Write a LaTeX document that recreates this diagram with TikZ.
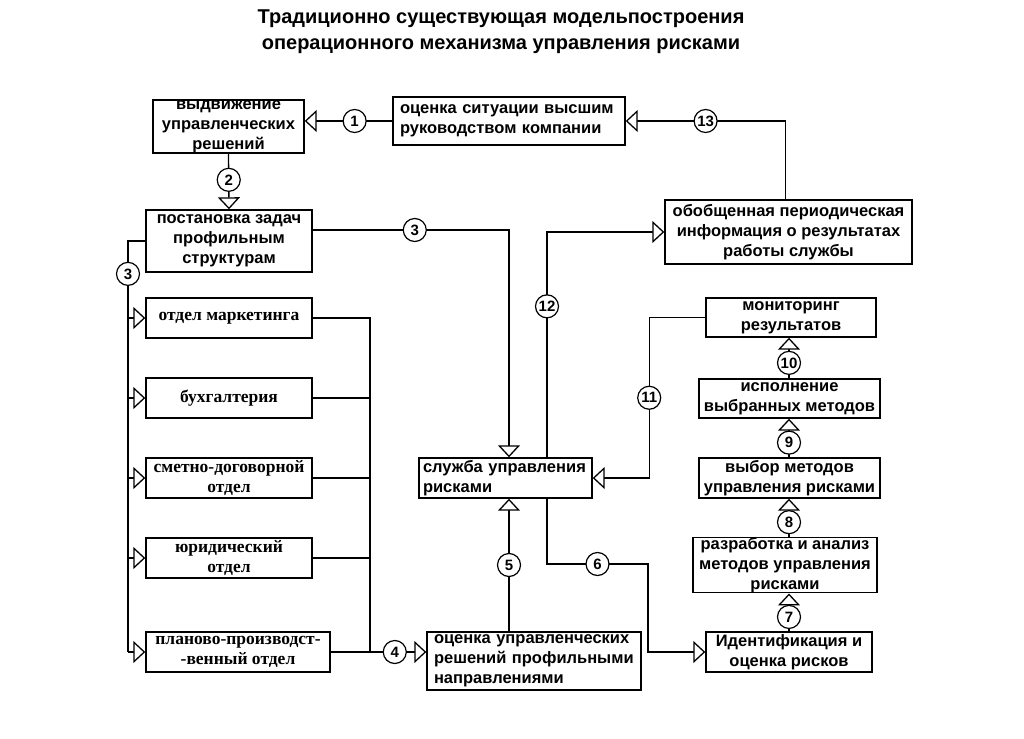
\documentclass[tikz,border=0pt]{standalone}
\usepackage{fontspec}
\setmainfont{Liberation Serif}
\setsansfont{Liberation Sans}
\usetikzlibrary{arrows.meta}

\tikzset{
  box/.style={draw, line width=1.4pt, inner sep=0pt, align=center,
    font=\sffamily\bfseries\fontsize{16.5}{20}\selectfont},
  dept/.style={box, minimum width=166pt, minimum height=40pt,
    font=\rmfamily\bfseries\fontsize{17.5}{20}\selectfont},
  num/.style={circle, draw, fill=white, line width=1.2pt, minimum size=23pt,
    inner sep=0pt, font=\sffamily\bfseries\fontsize{15}{15}\selectfont},
  link/.style={line width=1.3pt},
  arr/.style={link, -{Triangle[width=22pt, length=12pt, fill=white]}},
}

\begin{document}
\begin{tikzpicture}[x=1pt, y=-1pt]
    \useasboundingbox (0,0) rectangle (1024,738);

    % Title
    \node[font=\sffamily\bfseries\fontsize{20}{26}\selectfont, align=center] (title) at (501,32)
      {Традиционно существующая модельпостроения\\операционного механизма управления рисками};

    % Nodes
    \node[box, minimum width=151pt, minimum height=53pt] (vydv) at (228.5,126.5) {выдвижение\\управленческих\\решений};
    \node[box, align=left, text width=218pt, inner xsep=7pt, minimum height=48pt] (ocenka) at (509,121) {оценка ситуации высшим\\руководством компании};
    \node[box, minimum width=247pt, minimum height=64pt] (info) at (788.5,232) {обобщенная периодическая\\информация о результатах\\работы службы};
    \node[box, minimum width=166pt, minimum height=62pt] (zadachi) at (229,241) {постановка задач\\профильным\\структурам};
    \node[box, align=left, text width=165pt, inner xsep=4pt, minimum height=40pt] (sluzhba) at (505.5,478) {служба управления\\рисками};
    \node[box, minimum width=170pt, minimum height=39pt] (monitor) at (791,317.5) {мониторинг\\результатов};
    \node[box, minimum width=181pt, minimum height=39pt] (ispoln) at (789.5,398.5) {исполнение\\выбранных методов};
    \node[box, minimum width=181pt, minimum height=40pt] (vybor) at (789.5,478) {выбор методов\\управления рисками};
    \node[box, minimum width=184pt, minimum height=54pt] (razrab) at (785,565) {разработка и анализ\\методов управления\\рисками};
    \node[box, minimum width=166pt, minimum height=40pt] (ident) at (789,652) {Идентификация и\\оценка рисков};
    \node[box, align=left, text width=200pt, inner xsep=7pt, minimum height=58pt] (ocupr) at (534,661) {оценка управленческих\\решений профильными\\направлениями};

    % Departments
    \node[dept] (market) at (229,318) {отдел маркетинга};
    \node[dept] (buh) at (229,398) {бухгалтерия};
    \node[dept] (smeta) at (229,478) {сметно-договорной\\отдел};
    \node[dept] (jurid) at (229,558) {юридический\\отдел};
    \node[dept, minimum width=184pt] (plan) at (238,652) {планово-производст-\\-венный отдел};

    \coordinate (lbus) at (128,652);
    \coordinate (rbus) at (370,652);
    \coordinate (bend6) at (648,564);

    % Edges with numbers
    \draw[arr] (ocenka.west) -- node[num, pos=0.43] {1} (vydv.east |- ocenka.west);
    \draw[arr] ([xshift=-3pt]info.north) |- node[num, pos=0.75] {13} (ocenka.east);
    \draw[arr] (vydv.south) -- node[num, pos=0.47] {2} (zadachi.north);
    \draw[arr] ([yshift=11pt]zadachi.east) -| node[num, pos=0.26] {3} ([xshift=3.5pt]sluzhba.north);
    \draw[arr] ([xshift=41.5pt]sluzhba.north) |- node[num, pos=0.335] {12} (info.west);
    \draw[arr] (monitor.west) -| node[num, pos=0.75] {11} ([xshift=56.5pt]sluzhba.east) -- (sluzhba.east);
    \draw[arr] ([xshift=3.5pt]sluzhba.south |- ocupr.north) -- node[num, pos=0.5] {5} ([xshift=3.5pt]sluzhba.south);
    \draw[arr] ([xshift=41.5pt]sluzhba.south) |- node[num, pos=0.75] {6} (bend6) |- (ident.west);

    % Right column
    \draw[arr] (ident.north) -- node[num, pos=0.38] {7} (ident.north |- razrab.south);
    \draw[arr] (ident.north |- razrab.north) -- node[num, pos=0.38] {8} (ident.north |- vybor.south);
    \draw[arr] (ident.north |- vybor.north) -- node[num, pos=0.38] {9} (ident.north |- ispoln.south);
    \draw[arr] (ident.north |- ispoln.north) -- node[num, pos=0.38] {10} (ident.north |- monitor.south);

    % Left bus
    \draw[link] (zadachi.west) -| node[num, pos=0.54] {3} (lbus);
    \foreach \d in {market,buh,smeta,jurid,plan}
      \draw[arr] (lbus |- \d.west) -- (\d.west);

    % Right bus
    \draw[link] (market.east) -| (rbus);
    \foreach \d in {buh,smeta,jurid,plan}
      \draw[link] (\d.east) -- (\d.east -| rbus);
    \draw[arr] (rbus) -- node[num, pos=0.44] {4} (ocupr.west |- rbus);
\end{tikzpicture}
\end{document}
